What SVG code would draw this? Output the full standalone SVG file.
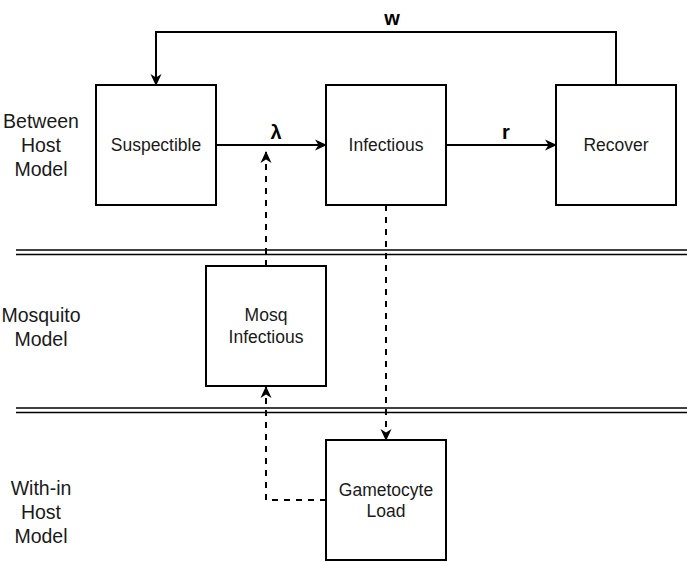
<svg xmlns="http://www.w3.org/2000/svg" width="687" height="562" viewBox="0 0 687 562">
<style>
.box{fill:#fff;stroke:#000;stroke-width:2}
.t{font-family:"Liberation Sans",Arial,sans-serif;font-size:17.5px;fill:#1a1a1a;text-anchor:middle;dominant-baseline:central}
.lab{font-family:"Liberation Sans",Arial,sans-serif;font-size:19.5px;fill:#1a1a1a;text-anchor:middle;dominant-baseline:central}
.b{font-family:"Liberation Sans",Arial,sans-serif;font-size:20px;font-weight:bold;fill:#000;text-anchor:middle;dominant-baseline:central}
.c{fill:none;stroke:#000;stroke-width:2}
.d{fill:none;stroke:#000;stroke-width:2;stroke-dasharray:6 6}
.sep{stroke:#000;stroke-width:1.5}
</style>
<defs>
<marker id="ah" viewBox="0 0 12 12" refX="11" refY="6" markerWidth="12" markerHeight="12" markerUnits="userSpaceOnUse" orient="auto">
<path d="M0,0.5 L12,6 L0,11.5 L3.5,6 Z" fill="#000"/>
</marker>
</defs>
<g id="separators">
<line class="sep" x1="16" y1="250" x2="687" y2="250"/>
<line class="sep" x1="16" y1="254.5" x2="687" y2="254.5"/>
<line class="sep" x1="16" y1="408" x2="687" y2="408"/>
<line class="sep" x1="16" y1="412.5" x2="687" y2="412.5"/>
</g>
<g id="labels">
<text class="lab" x="41" y="121">Between</text>
<text class="lab" x="41" y="145">Host</text>
<text class="lab" x="41" y="169">Model</text>
<text class="lab" x="41" y="315">Mosquito</text>
<text class="lab" x="41" y="339">Model</text>
<text class="lab" x="41" y="488">With-in</text>
<text class="lab" x="41" y="512">Host</text>
<text class="lab" x="41" y="536">Model</text>
</g>
<g id="connectors">
<path class="c" d="M216,145 L326,145" marker-end="url(#ah)"/>
<path class="c" d="M446,145 L556,145" marker-end="url(#ah)"/>
<path class="c" d="M616,85 L616,32 L156,32 L156,85" marker-end="url(#ah)"/>
<path class="d" d="M266,266 L266,152" marker-end="url(#ah)"/>
<path class="d" d="M386,205 L386,440" marker-end="url(#ah)"/>
<path class="d" d="M326,500 L266,500 L266,387" marker-end="url(#ah)"/>
<text class="b" x="276" y="132">λ</text>
<text class="b" x="506" y="132">r</text>
<text class="b" x="392" y="18">w</text>
</g>
<g id="suspectible">
<rect class="box" x="96" y="85" width="120" height="120"/>
<text class="t" x="156" y="145">Suspectible</text>
</g>
<g id="infectious">
<rect class="box" x="326" y="85" width="120" height="120"/>
<text class="t" x="386" y="145">Infectious</text>
</g>
<g id="recover">
<rect class="box" x="556" y="85" width="120" height="120"/>
<text class="t" x="616" y="145">Recover</text>
</g>
<g id="mosq">
<rect class="box" x="206" y="266" width="120" height="120"/>
<text class="t" x="266" y="315">Mosq</text>
<text class="t" x="266" y="337">Infectious</text>
</g>
<g id="gametocyte">
<rect class="box" x="326" y="440" width="120" height="120"/>
<text class="t" x="386" y="490">Gametocyte</text>
<text class="t" x="386" y="511">Load</text>
</g>
</svg>
